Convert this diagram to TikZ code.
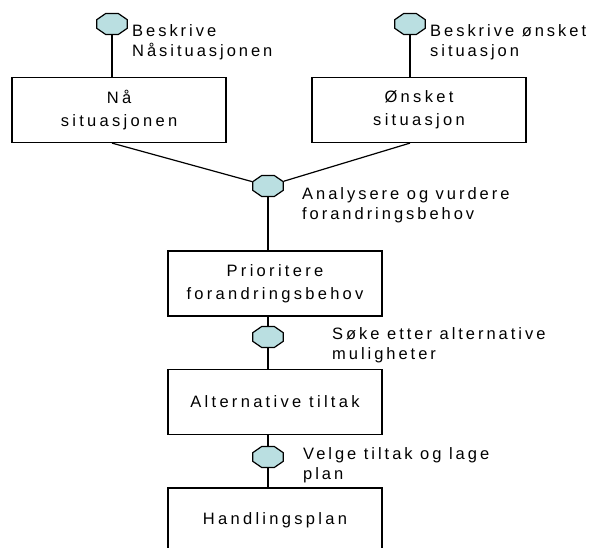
\documentclass[tikz,border=0pt]{standalone}
\usepackage{fontspec}
\setmainfont{Liberation Sans}
\newfontfamily\boxfont{Liberation Sans}[LetterSpace=20]
\newfontfamily\notefont{Liberation Sans}[LetterSpace=18]
\usetikzlibrary{positioning,shapes.geometric}
\definecolor{ink}{RGB}{0,0,0}
\definecolor{knot}{RGB}{186,223,225}

\begin{document}
\begin{tikzpicture}[x=1pt,y=-1pt,
    stage/.style={draw=ink,line width=1.2pt,minimum width=214pt,
      minimum height=65pt,align=center,inner sep=0pt,
      font=\boxfont\fontsize{16.5}{23}\selectfont},
    knotbox/.style={regular polygon,regular polygon sides=8,draw=ink,
      fill=knot,line width=1.2pt,minimum size=22.7pt,inner sep=0pt,
      xscale=1.45,transform shape},
    note/.style={anchor=base west,align=left,inner sep=0pt,
      font=\notefont\fontsize{16.5}{20}\selectfont},
    link/.style={draw=ink,line width=1.2pt}]
  \useasboundingbox (0,0) rectangle (592,548);
  \clip (0,0) rectangle (592,548);

  \node[stage] (naa) at (119,110) {Nå\\situasjonen};
  \node[stage] (onsket) at (419,110) {Ønsket\\situasjon};
  \node[stage] (prior) at (275,283.5) {Prioritere\\forandringsbehov};
  \node[stage] (tiltak) at (275,402) {Alternative tiltak};
  \node[stage] (plan) at (275,520.5) {Handlingsplan};

  \node[knotbox] (beskNaa) at (112,24) {};
  \node[knotbox] (beskOns) at (410,24) {};
  \node[knotbox] (analyse) at (268,186) {};
  \node[knotbox] (soke) at (268,337) {};
  \node[knotbox] (velge) at (268,457) {};

  \draw[link] (beskNaa) -- (beskNaa |- naa.north);
  \draw[link] (beskOns) -- (beskOns |- onsket.north);
  \draw[link] (beskNaa |- naa.south) -- (analyse);
  \draw[link] (beskOns |- onsket.south) -- (analyse);
  \draw[link] (analyse) -- (analyse |- prior.north);
  \draw[link] (analyse |- prior.south) -- (soke) -- (soke |- tiltak.north);
  \draw[link] (soke |- tiltak.south) -- (velge) -- (velge |- plan.north);

  \node[note] (tBeskNaa) at (132,57) {Beskrive\\Nåsituasjonen};
  \node[note] (tBeskOns) at (430,57) {Beskrive ønsket\\situasjon};
  \node[note] (tAnalyse) at (302,220) {Analysere og vurdere\\forandringsbehov};
  \node[note] (tSoke) at (332,359) {Søke etter alternative\\muligheter};
  \node[note] (tVelge) at (303,479) {Velge tiltak og lage\\plan};
\end{tikzpicture}
\end{document}
